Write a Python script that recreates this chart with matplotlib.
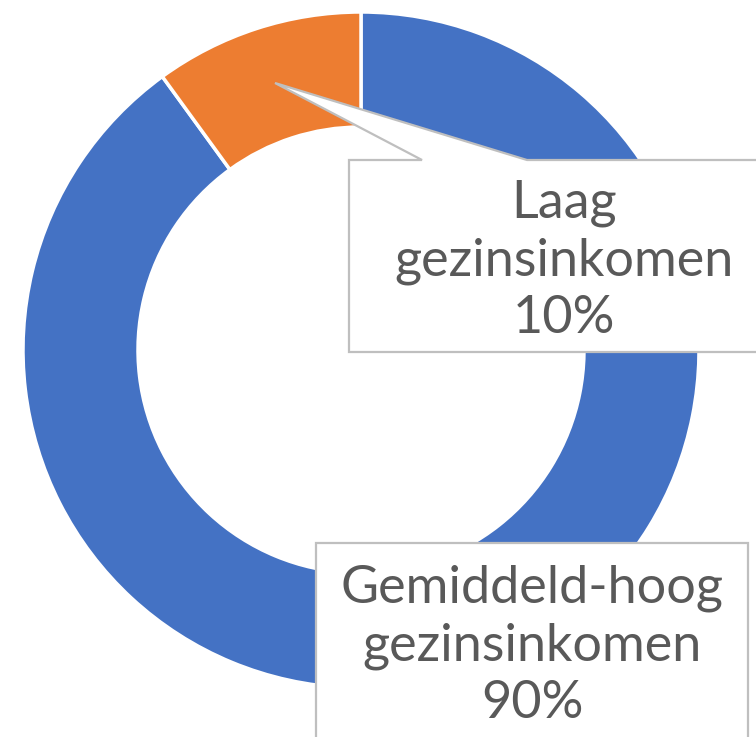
import matplotlib.pyplot as plt
from matplotlib.patches import Polygon

# chart data
labels = ['Gemiddeld-hoog\ngezinsinkomen', 'Laag\ngezinsinkomen']
shares = [90, 10]
colors = ['#4472C4', '#ED7D31']

W, H = 756, 737
text_color = '#595959'
edge_gray = '#bfbfbf'


def py(y):
    # pixel row (from top) -> data y
    return H - y


fig = plt.figure(figsize=(W / 100, H / 100), dpi=100)
ax = fig.add_axes([0, 0, 1, 1])

ax.pie(shares, colors=colors, startangle=90, counterclock=False,
       radius=338, center=(361, py(350)),
       wedgeprops=dict(width=115, edgecolor='white', linewidth=2.5))

ax.set_xlim(0, W)
ax.set_ylim(0, H)
ax.set_aspect('equal')
ax.axis('off')

# callout for the small slice (box + pointer as one shape)
callout = [(349, 160), (422, 160), (275, 83), (527, 160), (770, 160),
           (770, 352), (349, 352)]
ax.add_patch(Polygon([(x, py(y)) for x, y in callout], closed=True,
                     facecolor='white', edgecolor=edge_gray, linewidth=1.6,
                     zorder=3))

box2 = [(316, 543), (748, 543), (748, 760), (316, 760)]
ax.add_patch(Polygon([(x, py(y)) for x, y in box2], closed=True,
                     facecolor='white', edgecolor=edge_gray, linewidth=1.6,
                     zorder=3))

font = dict(family=['Lato', 'DejaVu Sans'], fontsize=37.5, color=text_color,
            ha='center', va='baseline', zorder=4)

# label positions (centre x, baseline y of first line)
label_pos = [(532, 602), (564, 217)]
line_gap = 58
for lab, val, (cx, by) in zip(labels, shares, label_pos):
    lines = lab.split('\n') + [f'{val}%']
    for i, line in enumerate(lines):
        ax.text(cx, py(by + i * line_gap), line, **font)

fig.savefig('out.png', dpi=100)
